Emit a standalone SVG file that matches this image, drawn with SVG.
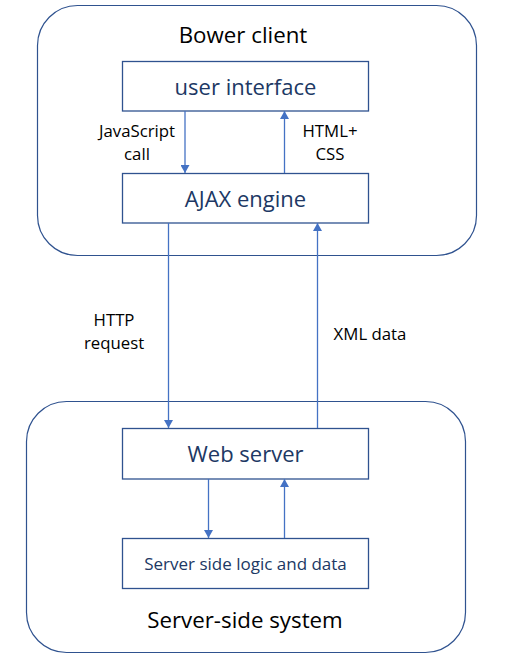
<svg xmlns="http://www.w3.org/2000/svg" width="506" height="659" viewBox="0 0 506 659">
<defs>
<style>
.container{fill:#ffffff;stroke:#2F528F;stroke-width:1.2}
.box{fill:#ffffff;stroke:#2F528F;stroke-width:1.3}
.title{font-family:"Open Sans","Liberation Sans",sans-serif;font-size:22.3px;fill:#000000;text-anchor:middle}
.node{font-family:"Open Sans","Liberation Sans",sans-serif;font-size:22px;fill:#203864;text-anchor:middle}
.small{font-family:"Open Sans","Liberation Sans",sans-serif;font-size:17px;fill:#203864;text-anchor:middle}
.lbl{font-family:"Open Sans","Liberation Sans",sans-serif;font-size:16.8px;fill:#000000;text-anchor:middle}
.conn{stroke:#4472C4;stroke-width:1.3;fill:none;marker-end:url(#arrow)}
</style>
<marker id="arrow" viewBox="0 0 8 9" refX="8" refY="4.5" markerWidth="8" markerHeight="9" markerUnits="userSpaceOnUse" orient="auto">
<path d="M0,0 L8,4.5 L0,9 Z" fill="#4472C4"/>
</marker>
</defs>
<rect width="506" height="659" fill="#ffffff"/>
<g id="client-container">
<rect class="container" x="37.5" y="5.5" width="439" height="250" rx="40" ry="40"/>
<text class="title" x="243" y="43">Bower client</text>
</g>
<g id="server-container">
<rect class="container" x="26.5" y="401.5" width="439" height="251" rx="40" ry="40"/>
<text class="title" x="245" y="628">Server-side system</text>
</g>
<g id="user-interface">
<rect class="box" x="122.5" y="61.5" width="246" height="49.5"/>
<text class="node" x="245.5" y="95">user interface</text>
</g>
<g id="ajax-engine">
<rect class="box" x="122.5" y="173.5" width="246" height="49.5"/>
<text class="node" x="245.5" y="207">AJAX engine</text>
</g>
<g id="web-server">
<rect class="box" x="122.5" y="428.5" width="246" height="50.5"/>
<text class="node" x="245.5" y="462">Web server</text>
</g>
<g id="server-logic">
<rect class="box" x="122.5" y="538.5" width="246" height="50"/>
<text class="small" x="245.5" y="570">Server side logic and data</text>
</g>
<g id="connectors">
<line class="conn" x1="185" y1="111" x2="185" y2="173"/>
<line class="conn" x1="284.5" y1="173" x2="284.5" y2="111"/>
<line class="conn" x1="168.5" y1="223" x2="168.5" y2="428"/>
<line class="conn" x1="317.5" y1="428" x2="317.5" y2="223"/>
<line class="conn" x1="208.5" y1="479" x2="208.5" y2="538"/>
<line class="conn" x1="284.5" y1="538" x2="284.5" y2="479"/>
</g>
<g id="labels">
<text class="lbl" x="137" y="137">JavaScript</text>
<text class="lbl" x="137" y="160">call</text>
<text class="lbl" x="330" y="137">HTML+</text>
<text class="lbl" x="330" y="160">CSS</text>
<text class="lbl" x="114" y="326">HTTP</text>
<text class="lbl" x="114" y="349">request</text>
<text class="lbl" x="370" y="340">XML data</text>
</g>
</svg>
